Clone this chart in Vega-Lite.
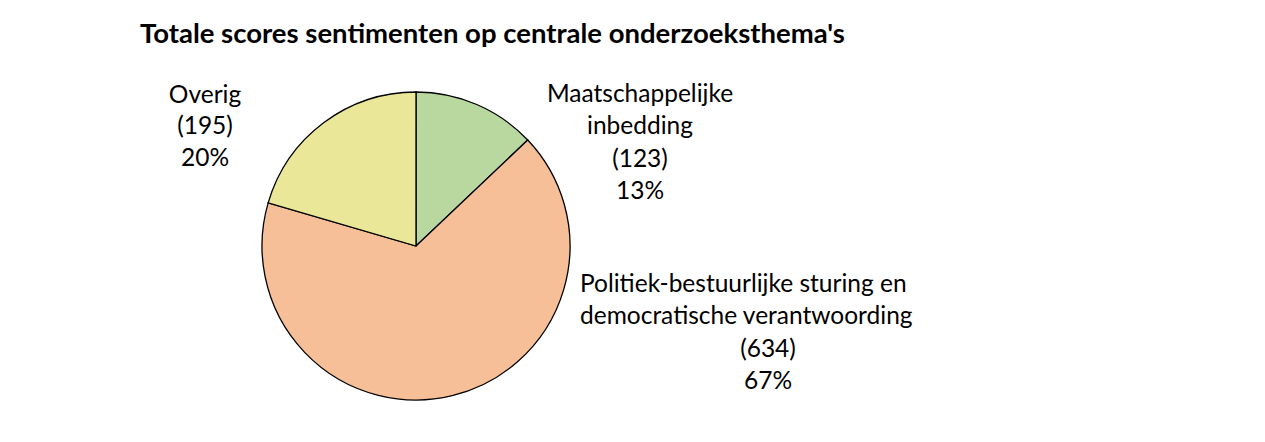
{
  "$schema": "https://vega.github.io/schema/vega-lite/v6.json",
  "autosize": "none",
  "width": 816,
  "height": 372,
  "padding": {"left": 8, "top": 60, "right": 441, "bottom": 10},
  "background": "white",
  "config": {
    "view": {"stroke": null},
    "text": {"font": "Lato", "fontSize": 24.5, "color": "#000000", "lineBreak": "\n", "lineHeight": 32, "baseline": "middle", "align": "center"}
  },
  "title": {
    "text": "Totale scores sentimenten op centrale onderzoeksthema's",
    "anchor": "start",
    "frame": "group",
    "dx": 132,
    "offset": 12,
    "font": "Lato",
    "fontSize": 27.5,
    "fontWeight": "bold",
    "color": "#000000"
  },
  "data": {
    "values": [
      {"thema": "Maatschappelijke inbedding", "naam": "Maatschappelijke\ninbedding", "waarde": "(123)\n13%", "aantal": 123, "volgorde": 1},
      {"thema": "Politiek-bestuurlijke sturing en democratische verantwoording", "naam": "Politiek-bestuurlijke sturing en\ndemocratische verantwoording", "waarde": "(634)\n67%", "aantal": 634, "volgorde": 2},
      {"thema": "Overig", "naam": "Overig", "waarde": "(195)\n20%", "aantal": 195, "volgorde": 3}
    ]
  },
  "layer": [
    {
      "mark": {"type": "arc", "radius": 154, "stroke": "#000000", "strokeWidth": 1.3},
      "encoding": {
        "theta": {"field": "aantal", "type": "quantitative", "stack": true},
        "order": {"field": "volgorde", "type": "quantitative"},
        "color": {
          "field": "thema",
          "type": "nominal",
          "scale": {
            "domain": ["Maatschappelijke inbedding", "Politiek-bestuurlijke sturing en democratische verantwoording", "Overig"],
            "range": ["#B8D8A0", "#F6BF97", "#EBE799"]
          },
          "legend": null
        }
      }
    },
    {
      "transform": [{"filter": "datum.volgorde == 1"}],
      "mark": {"type": "text", "dx": 224, "dy": -151},
      "encoding": {"text": {"field": "naam"}}
    },
    {
      "transform": [{"filter": "datum.volgorde == 1"}],
      "mark": {"type": "text", "dx": 224, "dy": -86},
      "encoding": {"text": {"field": "waarde"}}
    },
    {
      "transform": [{"filter": "datum.volgorde == 2"}],
      "mark": {"type": "text", "dx": 164, "dy": 39, "align": "left"},
      "encoding": {"text": {"field": "naam"}}
    },
    {
      "transform": [{"filter": "datum.volgorde == 2"}],
      "mark": {"type": "text", "dx": 352, "dy": 104},
      "encoding": {"text": {"field": "waarde"}}
    },
    {
      "transform": [{"filter": "datum.volgorde == 3"}],
      "mark": {"type": "text", "dx": -211, "dy": -150},
      "encoding": {"text": {"field": "naam"}}
    },
    {
      "transform": [{"filter": "datum.volgorde == 3"}],
      "mark": {"type": "text", "dx": -211, "dy": -119},
      "encoding": {"text": {"field": "waarde"}}
    }
  ]
}
